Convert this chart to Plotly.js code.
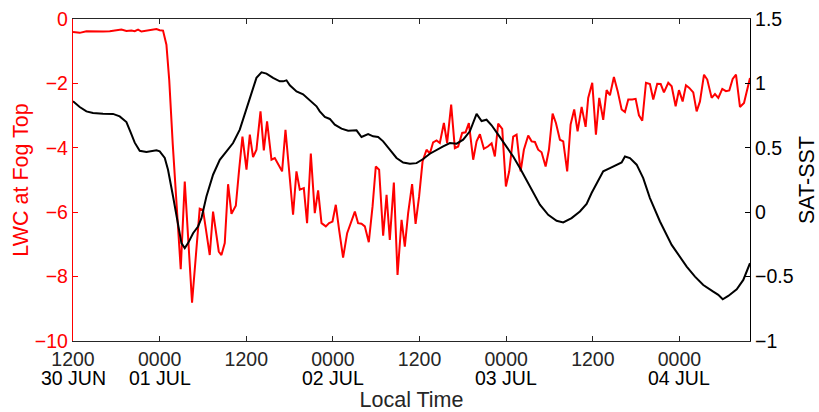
<!DOCTYPE html>
<html>
<head>
<meta charset="utf-8">
<script src="https://cdn.plot.ly/plotly-3.0.1.min.js"></script>
<style>html,body{margin:0;padding:0;background:#fff;}#chart{width:819px;height:412px;}</style>
</head>
<body>
<div id="chart"></div>
<script>
// Hours since 30 JUN 12:00 local time
const lwcHours = [0,0.93,1.86,2.77,4.16,5.09,6.24,6.71,7.40,8.09,8.55,9.01,9.48,10.17,10.86,11.56,12.01,12.47,12.94,13.33,13.82,14.37,14.92,15.48,16.00,16.49,17.55,18.01,18.94,19.40,20.19,20.56,21.02,21.48,21.95,22.55,23.00,23.47,24.03,24.49,24.94,25.41,25.97,26.43,26.88,27.49,27.95,28.41,28.96,29.43,29.96,30.48,30.95,31.41,31.97,32.42,32.94,33.49,33.95,34.42,35.02,35.47,35.94,36.40,36.86,37.41,37.97,38.48,39.04,39.49,39.96,40.42,40.97,41.49,41.94,42.40,42.96,43.43,43.88,44.44,44.95,45.51,45.96,46.42,46.97,47.45,47.94,48.42,48.97,49.43,49.88,50.36,50.81,51.37,51.82,52.38,52.89,53.35,53.90,54.37,54.83,55.43,55.90,56.36,56.91,57.46,57.98,58.43,58.89,59.45,59.96,60.42,60.97,61.44,62.00,62.45,63.05,63.52,63.98,64.43,64.90,65.46,65.92,66.43,66.89,67.44,67.90,68.45,68.92,69.42,69.89,70.45,71.00,71.36,71.92,72.43,72.89,73.44,73.91,74.37,74.92,75.44,75.99,76.45,76.91,77.46,77.93,78.39,78.85,79.36,79.91,80.37,80.92,81.40,81.85,82.45,82.92,83.47,83.93,84.44,84.90,85.36,85.91,86.38,86.84,87.40,87.85,88.46,88.92,89.38,89.93,90.44,90.90,91.37,91.83,92.38,92.94,93.77];
const lwcValues = [-0.40,-0.43,-0.38,-0.39,-0.39,-0.38,-0.35,-0.33,-0.37,-0.36,-0.38,-0.33,-0.39,-0.36,-0.33,-0.31,-0.35,-0.36,-0.8,-1.9,-3.9,-5.8,-7.77,-5.05,-7.0,-8.81,-5.89,-5.93,-7.33,-5.98,-7.22,-7.33,-6.96,-5.13,-6.05,-5.80,-4.7,-3.65,-4.68,-3.59,-4.29,-4.06,-2.87,-4.08,-3.18,-4.37,-4.32,-4.53,-4.73,-3.44,-4.8,-6.08,-4.73,-5.30,-5.25,-6.34,-4.18,-6.03,-5.32,-6.34,-6.44,-6.34,-6.29,-5.77,-6.55,-7.41,-6.65,-6.34,-5.98,-6.34,-6.36,-6.44,-6.93,-5.82,-4.58,-4.68,-6.73,-5.46,-6.86,-5.08,-7.95,-6.24,-7.07,-6.03,-5.13,-6.36,-5.51,-4.42,-4.06,-4.18,-3.83,-3.77,-3.85,-3.23,-3.85,-2.66,-4.01,-3.96,-3.54,-3.52,-3.23,-4.37,-3.80,-3.58,-4.03,-3.96,-3.86,-4.27,-3.25,-3.41,-5.20,-4.73,-3.65,-3.59,-4.73,-4.06,-3.62,-3.80,-3.82,-4.06,-4.14,-4.58,-4.06,-2.94,-3.23,-3.75,-3.80,-4.73,-3.28,-2.81,-3.49,-2.73,-3.35,-2.45,-1.98,-3.59,-2.45,-3.13,-2.21,-2.37,-1.80,-2.24,-2.81,-2.89,-2.50,-2.50,-2.48,-2.99,-3.16,-1.98,-2.02,-2.50,-2.01,-2.02,-2.28,-1.98,-2.09,-2.71,-2.21,-2.56,-2.06,-2.14,-2.28,-2.87,-2.56,-1.73,-1.88,-2.45,-2.33,-2.45,-2.17,-2.24,-2.22,-1.86,-1.73,-2.73,-2.61,-1.83];

const sstHours = [0,0.93,1.86,2.77,4.16,5.54,6.47,7.40,8.00,8.55,9.24,10.17,11.56,12.01,12.71,13.16,13.86,14.55,15.02,15.48,15.94,16.63,17.32,17.79,18.48,19.40,20.33,21.26,22.17,23.10,23.56,24.72,25.41,26.11,26.80,27.71,28.64,29.10,29.57,30.03,30.96,31.87,32.80,33.73,34.18,34.88,35.57,36.26,37.19,38.11,39.27,39.96,40.88,41.57,42.26,42.96,43.88,44.81,45.73,46.66,47.58,48.50,49.43,50.36,51.27,52.20,53.13,54.04,54.97,55.90,56.59,57.28,57.98,58.89,60.05,60.97,61.90,63.29,64.67,65.82,66.98,67.90,69.06,70.21,71.14,71.83,72.53,73.44,74.37,75.30,75.99,76.45,77.14,78.07,78.98,79.91,81.30,82.92,84.07,85.00,86.15,87.30,88.68,89.38,89.99,90.76,91.93,92.84,93.77];
const sstValues = [0.861,0.817,0.783,0.770,0.765,0.763,0.744,0.700,0.617,0.540,0.477,0.467,0.480,0.472,0.421,0.330,0.122,-0.111,-0.240,-0.279,-0.240,-0.163,-0.111,-0.046,0.122,0.291,0.407,0.472,0.537,0.641,0.718,0.926,1.043,1.086,1.076,1.043,1.016,1.016,1.024,0.985,0.937,0.915,0.872,0.822,0.783,0.739,0.724,0.680,0.649,0.633,0.636,0.584,0.607,0.589,0.584,0.550,0.485,0.421,0.386,0.376,0.381,0.413,0.454,0.485,0.511,0.537,0.532,0.563,0.628,0.763,0.708,0.718,0.675,0.602,0.511,0.433,0.343,0.200,0.058,-0.020,-0.067,-0.080,-0.046,0.006,0.065,0.149,0.227,0.317,0.343,0.369,0.386,0.433,0.420,0.369,0.265,0.110,-0.072,-0.254,-0.345,-0.422,-0.500,-0.565,-0.617,-0.642,-0.676,-0.650,-0.598,-0.526,-0.396];

const tickHours = [0,12,24,36,48,60,72,84];
const tickTimes = ['1200','0000','1200','0000','1200','0000','1200','0000'];
const dateHours = [0,12,36,60,84];
const dateLabels = ['30 JUN','01 JUL','02 JUL','03 JUL','04 JUL'];
const xEnd = 93.77;

const FONT = 'Liberation Sans, Arial, Helvetica, sans-serif';

const traces = [
  {x: lwcHours, y: lwcValues, type: 'scatter', mode: 'lines', yaxis: 'y',
   line: {color: '#ff0000', width: 2}, hoverinfo: 'skip'},
  {x: sstHours, y: sstValues, type: 'scatter', mode: 'lines', yaxis: 'y2',
   line: {color: '#000000', width: 2}, hoverinfo: 'skip'}
];

const annotations = dateHours.map((h, i) => ({
  x: h, xref: 'x', y: -0.115, yref: 'paper', yanchor: 'middle', xanchor: 'center',
  text: dateLabels[i], showarrow: false, font: {family: FONT, size: 19.5, color: '#000'}
}));

const layout = {
  width: 819, height: 412,
  margin: {l: 73, r: 69, t: 19, b: 71, pad: 0},
  paper_bgcolor: '#fff', plot_bgcolor: '#fff',
  showlegend: false,
  font: {family: FONT, size: 19.5, color: '#262626'},
  xaxis: {
    range: [0, xEnd], tickmode: 'array', tickvals: tickHours, ticktext: tickTimes,
    ticks: 'inside', ticklen: 5, tickwidth: 1, tickcolor: '#262626',
    showline: true, linecolor: '#262626', linewidth: 1.2, mirror: 'ticks',
    showgrid: false, zeroline: false,
    tickfont: {family: FONT, size: 19.5, color: '#262626'},
    title: {text: 'Local Time', font: {family: FONT, size: 21.5, color: '#262626'}, standoff: 28}
  },
  yaxis: {
    range: [-10, 0], tickmode: 'linear', tick0: 0, dtick: 2,
    ticks: 'inside', ticklen: 5, tickwidth: 1, tickcolor: '#ff0000',
    showline: true, linecolor: '#ff0000', linewidth: 1.2,
    showgrid: false, zeroline: false,
    tickfont: {family: FONT, size: 19.5, color: '#ff0000'},
    title: {text: 'LWC at Fog Top', font: {family: FONT, size: 21.5, color: '#ff0000'}, standoff: 0}
  },
  yaxis2: {
    overlaying: 'y', side: 'right', anchor: 'x',
    range: [-1, 1.5], tickmode: 'linear', tick0: -1, dtick: 0.5,
    ticks: 'inside', ticklen: 5, tickwidth: 1, tickcolor: '#000',
    showline: true, linecolor: '#000', linewidth: 1.2,
    showgrid: false, zeroline: false,
    tickfont: {family: FONT, size: 19.5, color: '#000'},
    title: {text: 'SAT-SST', font: {family: FONT, size: 21.5, color: '#000'}, standoff: 14}
  },
  annotations: annotations
};

Plotly.newPlot('chart', traces, layout, {displayModeBar: false, staticPlot: true});
</script>
</body>
</html>
